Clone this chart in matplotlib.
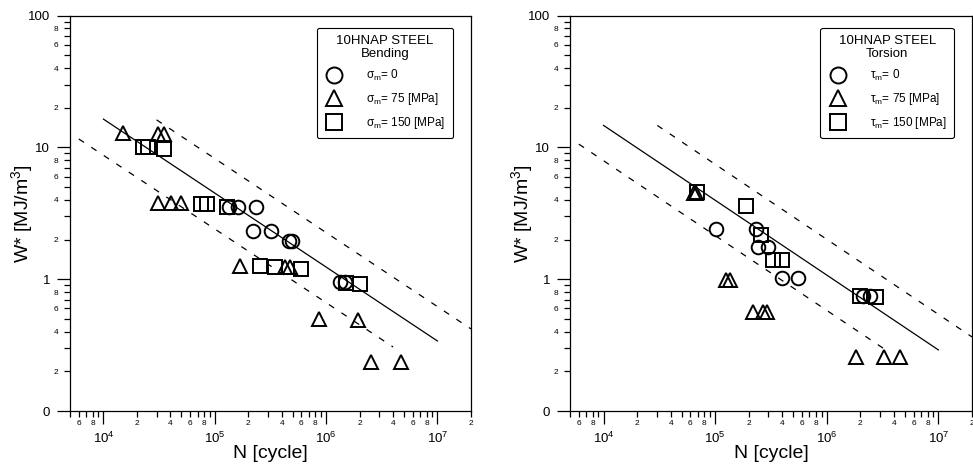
import matplotlib.pyplot as plt
from matplotlib.lines import Line2D

plt.rcParams['font.family'] = ['Liberation Sans', 'DejaVu Sans']
plt.rcParams['mathtext.fontset'] = 'custom'
plt.rcParams['mathtext.rm'] = 'Liberation Sans'
plt.rcParams['mathtext.it'] = 'Liberation Sans:italic'

# ---- Bending (sigma_m) ----
bend_circle_N = [1.35e5, 1.62e5, 2.34e5, 2.2e5, 3.19e5, 4.62e5, 4.92e5, 1.32e6, 1.47e6]
bend_circle_W = [3.54, 3.54, 3.54, 2.32, 2.32, 1.95, 1.95, 0.95, 0.95]
bend_triangle_N = [1.51e4, 3.1e4, 3.5e4, 3.1e4, 4.06e4, 4.99e4, 1.685e5, 4.26e5, 4.72e5,
                   8.59e5, 1.92e6, 2.51e6, 4.66e6]
bend_triangle_W = [12.9, 12.6, 12.6, 3.8, 3.8, 3.8, 1.26, 1.24, 1.24, 0.50, 0.49, 0.236, 0.236]
bend_square_N = [2.28e4, 2.53e4, 3.51e4, 7.54e4, 8.53e4, 1.29e5, 2.55e5, 3.47e5, 5.93e5, 1.50e6, 2.0e6]
bend_square_W = [10.1, 10.1, 9.7, 3.73, 3.73, 3.54, 1.27, 1.24, 1.20, 0.94, 0.92]

bend_fit_N = [1e4, 1e7]
bend_fit_W = [16.4, 0.34]
bend_lower_N = [6.0e3, 4.0e6]
bend_lower_W = [11.6, 0.306]
bend_upper_N = [3.0e4, 2.0e7]
bend_upper_W = [16.2, 0.42]

# ---- Torsion (tau_m) ----
tors_circle_N = [1.01e5, 2.31e5, 2.41e5, 2.97e5, 3.94e5, 5.51e5, 2.11e6, 2.44e6]
tors_circle_W = [2.39, 2.39, 1.75, 1.75, 1.02, 1.02, 0.746, 0.746]
tors_triangle_N = [6.4e4, 6.7e4, 1.26e5, 1.37e5, 2.19e5, 2.69e5, 2.89e5, 1.83e6, 3.26e6, 4.54e6]
tors_triangle_W = [4.5, 4.5, 0.99, 0.99, 0.567, 0.567, 0.567, 0.259, 0.259, 0.259]
tors_square_N = [6.9e4, 1.88e5, 2.56e5, 3.29e5, 3.96e5, 1.99e6, 2.75e6]
tors_square_W = [4.6, 3.6, 2.16, 1.40, 1.40, 0.746, 0.73]

tors_fit_N = [1e4, 1e7]
tors_fit_W = [14.7, 0.291]
tors_lower_N = [6.0e3, 3.7e6]
tors_lower_W = [10.6, 0.276]
tors_upper_N = [3.03e4, 2.0e7]
tors_upper_W = [14.7, 0.365]

x_major = [1e4, 1e5, 1e6, 1e7]
x_major_labels = ['$10^4$', '$10^5$', '$10^6$', '$10^7$']
y_major = [0.1, 1, 10, 100]
y_major_labels = ['0', '1', '10', '100']

MARK = dict(ls='none', mfc='none', mec='k', mew=1.4, ms=9.8)
DASH = (0, (5, 7))


def minor_ticks(first_decade, last_decade, start_digit, end_digit):
    """Minor tick positions and labels (only 2, 4, 6, 8 labelled)."""
    pos, lab = [], []
    for d in range(first_decade, last_decade + 1):
        for m in range(2, 10):
            if d == first_decade and m < start_digit:
                continue
            if d == last_decade and m > end_digit:
                continue
            pos.append(m * 10.0 ** d)
            lab.append(str(m) if m % 2 == 0 else '')
    return pos, lab


def setup_axes(ax):
    ax.set_xscale('log')
    ax.set_yscale('log')
    ax.set_xlim(5e3, 2e7)
    ax.set_ylim(0.1, 100)

    ax.set_xticks(x_major, labels=x_major_labels)
    xm, xl = minor_ticks(3, 7, 5, 2)
    ax.set_xticks(xm, labels=xl, minor=True)
    ax.set_yticks(y_major, labels=y_major_labels)
    ym, yl = minor_ticks(-1, 1, 2, 9)
    ax.set_yticks(ym, labels=yl, minor=True)

    ax.tick_params(which='major', direction='out', length=9.4, width=0.9, labelsize=9.5)
    ax.tick_params(axis='x', which='major', pad=5)
    ax.tick_params(axis='y', which='major', pad=5)
    ax.tick_params(which='minor', direction='out', length=4.4, width=0.9, labelsize=6, pad=2)
    ax.tick_params(axis='y', which='minor', pad=4)
    for s in ax.spines.values():
        s.set_linewidth(0.9)

    ax.set_xlabel('N [cycle]', fontsize=14, labelpad=-1)
    ax.set_ylabel('W* [MJ/m$^3$]', fontsize=14, labelpad=-5)


def plot_panel(ax, circ, tri, sq, fit, lower, upper, sym, title):
    ax.plot(fit[0], fit[1], color='k', lw=0.9)
    ax.plot(lower[0], lower[1], color='k', lw=0.9, ls=DASH)
    ax.plot(upper[0], upper[1], color='k', lw=0.9, ls=DASH)

    ax.plot(circ[0], circ[1], marker='o', **MARK)
    ax.plot(tri[0], tri[1], marker='^', **MARK)
    ax.plot(sq[0], sq[1], marker='s', **MARK)

    handles = [Line2D([], [], marker=m, ls='none', mfc='none', mec='k', mew=1.4, ms=11.5)
               for m in ['o', '^', 's']]
    labels = [sym + r'$_\mathrm{m}$= 0', sym + r'$_\mathrm{m}$= 75 [MPa]', sym + r'$_\mathrm{m}$= 150 [MPa]']
    leg = ax.legend(handles, labels, title=title, loc='upper right',
                    bbox_to_anchor=(0.955, 0.97), borderaxespad=0, fancybox=True,
                    edgecolor='k', framealpha=1, fontsize=8.5, title_fontsize=9.5,
                    handlelength=1.7, handletextpad=1.9, labelspacing=0.66, borderpad=0.6)
    leg.get_frame().set_linewidth(0.8)
    leg.get_title().set_multialignment('center')

    setup_axes(ax)


fig = plt.figure(figsize=(9.73, 4.67), dpi=100)
ax1 = fig.add_axes([0.0719, 0.1199, 0.4121, 0.8465])
ax2 = fig.add_axes([0.5858, 0.1199, 0.4131, 0.8465])

plot_panel(ax1, (bend_circle_N, bend_circle_W), (bend_triangle_N, bend_triangle_W),
           (bend_square_N, bend_square_W), (bend_fit_N, bend_fit_W),
           (bend_lower_N, bend_lower_W), (bend_upper_N, bend_upper_W),
           'σ', '10HNAP STEEL\nBending')
plot_panel(ax2, (tors_circle_N, tors_circle_W), (tors_triangle_N, tors_triangle_W),
           (tors_square_N, tors_square_W), (tors_fit_N, tors_fit_W),
           (tors_lower_N, tors_lower_W), (tors_upper_N, tors_upper_W),
           'τ', '10HNAP STEEL\nTorsion')

fig.savefig('out.png', dpi=100)
